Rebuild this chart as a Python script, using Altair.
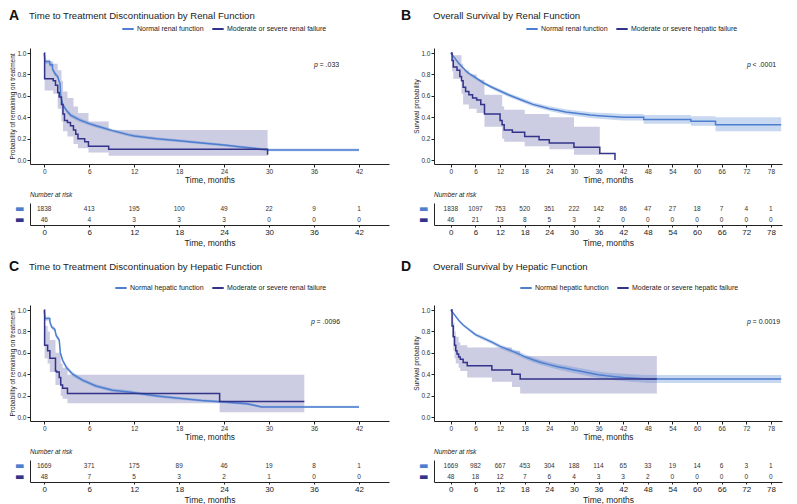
import altair as alt
import pandas as pd

FONT = "Liberation Sans"
C_NORM = "#4d7ecf"
C_DARK = "#33338a"

# ---------------- text ----------------
letters = ["A", "B", "C", "D"]
titles = ["Time to Treatment Discontinuation by Renal Function",
          "Overall Survival by Renal Function",
          "Time to Treatment Discontinuation by Hepatic Function",
          "Overall Survival by Hepatic Function"]
y_titles = ["Probability of remaining on treatment", "Survival probability",
            "Probability of remaining on treatment", "Survival probability"]
legend_normal = ["Normal renal function", "Normal renal function",
                 "Normal hepatic function", "Normal hepatic function"]
legend_impaired = ["Moderate or severe renal failure", "Moderate or severe hepatic failure",
                   "Moderate or severe renal failure", "Moderate or severe hepatic failure"]
p_labels = ["= .033", "< .0001", "= .0096", "= 0.0019"]
p_time = [36.0, 72.2, 35.6, 72.2]
p_surv = [0.89, 0.89, 0.89, 0.89]

ticks_short = [0, 6, 12, 18, 24, 30, 36, 42]
ticks_long = [0, 6, 12, 18, 24, 30, 36, 42, 48, 54, 60, 66, 72, 78]
y_ticks = [0.0, 0.2, 0.4, 0.6, 0.8, 1.0]

# ---------------- numbers at risk ----------------
risk_A_norm = [1838, 413, 195, 100, 49, 22, 9, 1]
risk_A_imp = [46, 4, 3, 3, 3, 0, 0, 0]
risk_B_norm = [1838, 1097, 753, 520, 351, 222, 142, 86, 47, 27, 18, 7, 4, 1]
risk_B_imp = [46, 21, 13, 8, 5, 3, 2, 0, 0, 0, 0, 0, 0, 0]
risk_C_norm = [1669, 371, 175, 89, 46, 19, 8, 1]
risk_C_imp = [48, 7, 5, 3, 2, 1, 0, 0]
risk_D_norm = [1669, 982, 667, 453, 304, 188, 114, 65, 33, 19, 14, 6, 3, 1]
risk_D_imp = [48, 18, 12, 7, 6, 4, 3, 3, 2, 0, 0, 0, 0, 0]

# ---------------- panel A curves ----------------
A_norm_t = [0, 0.1, 0.75, 0.75, 1.1, 1.1, 1.5, 1.8, 2.0, 2.1, 2.2, 2.45, 3.0, 3.5, 4.7, 6.0, 6.9, 9.1, 11.3, 12,
            15, 18, 21, 24, 26, 28, 29, 30, 42]
A_norm_s = [1.0, 0.92, 0.92, 0.89, 0.89, 0.85, 0.80, 0.78, 0.73, 0.72, 0.60, 0.52, 0.46, 0.42, 0.375, 0.34, 0.32,
            0.275, 0.235, 0.225, 0.20, 0.18, 0.16, 0.14, 0.125, 0.11, 0.10, 0.095, 0.095]
A_norm_lo = [1.0, 0.90, 0.90, 0.87, 0.87, 0.83, 0.78, 0.76, 0.71, 0.70, 0.58, 0.50, 0.44, 0.40, 0.355, 0.322, 0.303,
             0.26, 0.22, 0.21, 0.186, 0.166, 0.147, 0.127, 0.113, 0.098, 0.088, 0.083, 0.083]
A_norm_hi = [1.0, 0.94, 0.94, 0.91, 0.91, 0.87, 0.82, 0.80, 0.75, 0.74, 0.62, 0.54, 0.48, 0.44, 0.395, 0.358, 0.337,
             0.29, 0.25, 0.24, 0.214, 0.194, 0.173, 0.153, 0.137, 0.122, 0.112, 0.107, 0.107]
A_imp_t = [0, 0.05, 1.2, 1.5, 1.8, 2.0, 2.3, 2.5, 2.7, 3.1, 3.5, 3.9, 4.2, 4.5, 5.4, 5.9, 8.6, 29.8]
A_imp_s = [1.0, 0.76, 0.74, 0.70, 0.63, 0.59, 0.52, 0.43, 0.37, 0.35, 0.32, 0.28, 0.24, 0.20, 0.17, 0.13, 0.10, 0.05]
A_band_t = [0, 0.05, 1.2, 1.8, 2.3, 2.5, 3.1, 3.9, 4.5, 5.9, 8.6, 29.8]
A_band_lo = [1.0, 0.65, 0.62, 0.48, 0.36, 0.27, 0.22, 0.15, 0.11, 0.07, 0.04, 0.04]
A_band_hi = [1.0, 0.92, 0.90, 0.84, 0.74, 0.64, 0.58, 0.50, 0.44, 0.36, 0.28, 0.28]

# ---------------- panel B curves ----------------
B_norm_t = [0, 1, 2, 3, 4, 6, 8, 10, 12, 14, 16, 18, 20, 22, 24, 26, 28, 30, 32, 34, 36, 38, 40, 42, 47, 47,
            58.5, 58.5, 64.5, 64.5, 80.5]
B_norm_s = [1.0, 0.95, 0.9, 0.86, 0.82, 0.77, 0.72, 0.68, 0.645, 0.61, 0.58, 0.55, 0.52, 0.50, 0.48, 0.465, 0.45,
            0.44, 0.43, 0.42, 0.415, 0.41, 0.405, 0.40, 0.40, 0.38, 0.38, 0.363, 0.363, 0.33, 0.33]
B_norm_lo = [1.0, 0.94, 0.89, 0.845, 0.805, 0.755, 0.705, 0.663, 0.627, 0.592, 0.561, 0.53, 0.5, 0.479, 0.458,
             0.442, 0.426, 0.415, 0.404, 0.393, 0.387, 0.381, 0.375, 0.369, 0.369, 0.34, 0.34, 0.32, 0.32, 0.27, 0.27]
B_norm_hi = [1.0, 0.96, 0.91, 0.875, 0.835, 0.785, 0.735, 0.697, 0.663, 0.628, 0.599, 0.57, 0.54, 0.521, 0.502,
             0.488, 0.474, 0.465, 0.456, 0.447, 0.443, 0.439, 0.435, 0.431, 0.431, 0.42, 0.42, 0.41, 0.41, 0.40, 0.40]
B_imp_t = [0, 0.3, 0.6, 1.5, 2.2, 2.6, 3.0, 3.6, 4.4, 5.3, 6.3, 7.3, 8.2, 12.0, 12.5, 13.0, 15.0, 18.0, 21.5, 24.0,
           30.0, 36.3, 40.0]
B_imp_s = [1.0, 0.93, 0.87, 0.84, 0.78, 0.74, 0.68, 0.64, 0.61, 0.58, 0.56, 0.52, 0.43, 0.37, 0.33, 0.28, 0.26,
           0.22, 0.19, 0.16, 0.12, 0.06, 0.0]
B_band_t = [0, 0.3, 0.6, 2.6, 3.0, 4.4, 6.3, 8.2, 12.5, 13.0, 18.0, 24.0, 30.0, 36.3]
B_band_lo = [1.0, 0.83, 0.76, 0.62, 0.52, 0.48, 0.44, 0.31, 0.20, 0.17, 0.13, 0.10, 0.05, 0.05]
B_band_hi = [1.0, 1.0, 0.98, 0.90, 0.84, 0.80, 0.75, 0.61, 0.50, 0.47, 0.43, 0.40, 0.31, 0.31]

# ---------------- panel C curves ----------------
C_norm_t = [0, 0.1, 0.75, 0.75, 1.0, 1.4, 1.6, 2.0, 2.15, 2.45, 3.0, 3.8, 5.1, 6.9, 9.1, 11.3, 13.6, 15.3, 18, 21,
            24, 27, 28, 29, 42]
C_norm_s = [1.0, 0.92, 0.92, 0.89, 0.84, 0.82, 0.76, 0.72, 0.6, 0.53, 0.46, 0.40, 0.345, 0.29, 0.25, 0.235, 0.21,
            0.195, 0.175, 0.155, 0.14, 0.125, 0.11, 0.095, 0.095]
C_norm_lo = [1.0, 0.90, 0.90, 0.87, 0.82, 0.80, 0.74, 0.70, 0.58, 0.51, 0.44, 0.38, 0.327, 0.273, 0.234, 0.22,
             0.196, 0.181, 0.162, 0.143, 0.128, 0.113, 0.099, 0.084, 0.084]
C_norm_hi = [1.0, 0.94, 0.94, 0.91, 0.86, 0.84, 0.78, 0.74, 0.62, 0.55, 0.48, 0.42, 0.363, 0.307, 0.266, 0.25,
             0.224, 0.209, 0.188, 0.167, 0.152, 0.137, 0.121, 0.106, 0.106]
C_imp_t = [0, 0.05, 0.45, 0.75, 1.5, 1.65, 2.0, 2.2, 2.45, 3.1, 23.4, 34.7]
C_imp_s = [1.0, 0.67, 0.62, 0.55, 0.43, 0.42, 0.37, 0.30, 0.27, 0.22, 0.145, 0.145]
C_band_t = [0, 0.05, 0.45, 0.75, 1.5, 2.2, 2.45, 3.1, 23.4, 34.7]
C_band_lo = [1.0, 0.55, 0.50, 0.42, 0.30, 0.20, 0.17, 0.13, 0.045, 0.045]
C_band_hi = [1.0, 0.85, 0.80, 0.72, 0.60, 0.50, 0.46, 0.395, 0.395, 0.395]

# ---------------- panel D curves ----------------
D_norm_t = [0, 1, 2, 3, 4, 6, 8, 10, 12, 14, 16, 18, 20, 22, 24, 26, 28, 30, 32, 34, 36, 38, 40, 42, 44, 46, 48, 80.5]
D_norm_s = [1.0, 0.95, 0.9, 0.86, 0.83, 0.77, 0.735, 0.70, 0.66, 0.63, 0.60, 0.565, 0.535, 0.51, 0.49, 0.47, 0.455,
            0.44, 0.425, 0.41, 0.395, 0.385, 0.377, 0.37, 0.365, 0.36, 0.355, 0.355]
D_norm_lo = [1.0, 0.94, 0.89, 0.848, 0.817, 0.755, 0.718, 0.682, 0.641, 0.61, 0.579, 0.543, 0.512, 0.486, 0.465,
             0.444, 0.428, 0.412, 0.396, 0.38, 0.364, 0.353, 0.344, 0.336, 0.33, 0.324, 0.318, 0.318]
D_norm_hi = [1.0, 0.96, 0.91, 0.872, 0.843, 0.785, 0.752, 0.718, 0.679, 0.65, 0.621, 0.587, 0.558, 0.534, 0.515,
             0.496, 0.482, 0.468, 0.454, 0.44, 0.426, 0.417, 0.41, 0.404, 0.40, 0.396, 0.392, 0.392]
D_imp_t = [0, 0.3, 0.6, 0.9, 1.2, 1.5, 1.9, 2.3, 3.0, 4.0, 10.0, 14.9, 16.9, 50.2]
D_imp_s = [1.0, 0.85, 0.75, 0.67, 0.62, 0.59, 0.56, 0.54, 0.51, 0.48, 0.44, 0.40, 0.355, 0.355]
D_band_t = [0, 0.3, 0.6, 0.9, 1.2, 1.9, 2.3, 4.0, 10.0, 14.9, 16.9, 50.2]
D_band_lo = [1.0, 0.75, 0.62, 0.55, 0.50, 0.46, 0.43, 0.37, 0.33, 0.28, 0.22, 0.22]
D_band_hi = [1.0, 0.95, 0.88, 0.80, 0.75, 0.70, 0.67, 0.65, 0.65, 0.62, 0.57, 0.57]

# ---------------- layout (style only) ----------------
panels = [
    dict(nt=A_norm_t, ns=A_norm_s, nlo=A_norm_lo, nhi=A_norm_hi, it=A_imp_t, is_=A_imp_s,
         bt=A_band_t, blo=A_band_lo, bhi=A_band_hi, rn=risk_A_norm, ri=risk_A_imp,
         ticks=ticks_short, xdom=[-1.9, 46], W=359, letter_x=-16, head_y=-32.5, leg_x=91, leg_y=-26),
    dict(nt=B_norm_t, ns=B_norm_s, nlo=B_norm_lo, nhi=B_norm_hi, it=B_imp_t, is_=B_imp_s,
         bt=B_band_t, blo=B_band_lo, bhi=B_band_hi, rn=risk_B_norm, ri=risk_B_imp,
         ticks=ticks_long, xdom=[-4.1, 80.7], W=348, letter_x=-28, head_y=-32.5, leg_x=91, leg_y=-26),
    dict(nt=C_norm_t, ns=C_norm_s, nlo=C_norm_lo, nhi=C_norm_hi, it=C_imp_t, is_=C_imp_s,
         bt=C_band_t, blo=C_band_lo, bhi=C_band_hi, rn=risk_C_norm, ri=risk_C_imp,
         ticks=ticks_short, xdom=[-1.9, 46], W=359, letter_x=-16, head_y=-38, leg_x=84, leg_y=-24),
    dict(nt=D_norm_t, ns=D_norm_s, nlo=D_norm_lo, nhi=D_norm_hi, it=D_imp_t, is_=D_imp_s,
         bt=D_band_t, blo=D_band_lo, bhi=D_band_hi, rn=risk_D_norm, ri=risk_D_imp,
         ticks=ticks_long, xdom=[-4.1, 80.7], W=348, letter_x=-28, head_y=-38, leg_x=85, leg_y=-24),
]
H = 116
RISK_H = 22


def make_panel(i):
    p = panels[i]
    ln, li = legend_normal[i], legend_impaired[i]
    norm_df = pd.DataFrame({"t": p["nt"], "s": p["ns"], "lo": p["nlo"], "hi": p["nhi"],
                            "grp": ln, "o": list(range(len(p["nt"])))})
    imp_df = pd.DataFrame({"t": p["it"], "s": p["is_"], "grp": li, "o": list(range(len(p["it"])))})
    band_df = pd.DataFrame({"t": p["bt"], "lo": p["blo"], "hi": p["bhi"]})
    p_df = pd.DataFrame({"t": [p_time[i]], "s": [p_surv[i]], "txt": [p_labels[i]]})
    head_df = pd.DataFrame({"letter": [letters[i]], "title": [titles[i]]})

    xs = alt.Scale(domain=p["xdom"], nice=False, zero=False)
    ys = alt.Scale(domain=[-0.037, 1.047], nice=False, zero=False)
    cs = alt.Scale(domain=[ln, li], range=[C_NORM, C_DARK])
    xax = alt.Axis(values=p["ticks"], title="Time, months", labelFontSize=6.5, titleFontSize=8.3,
                   tickSize=3, labelPadding=1, titlePadding=1)
    yax = alt.Axis(values=y_ticks, format=".1f", title=y_titles[i], labelFontSize=6.5, titleFontSize=6.5,
                   tickSize=3, labelPadding=1, titlePadding=1.5)
    X = alt.X("t:Q", scale=xs, axis=xax)
    leg = alt.Legend(orient="none", legendX=p["leg_x"], legendY=p["leg_y"], direction="horizontal",
                     title=None, symbolType="stroke", symbolStrokeWidth=2, symbolSize=130,
                     labelFontSize=7, labelColor="#222", columnPadding=4, labelOffset=2)

    band_i = alt.Chart(band_df).mark_area(interpolate="step-after", color=C_DARK, opacity=0.25).encode(
        x=X, y=alt.Y("lo:Q", scale=ys, axis=yax), y2="hi:Q")
    band_n = alt.Chart(norm_df).mark_area(color=C_NORM, opacity=0.3).encode(
        x=X, y=alt.Y("lo:Q", scale=ys, axis=yax), y2="hi:Q")
    line_n = alt.Chart(norm_df).mark_line(strokeWidth=1.5).encode(
        x=X, y=alt.Y("s:Q", scale=ys, axis=yax), order="o:Q",
        color=alt.Color("grp:N", scale=cs, legend=leg))
    line_i = alt.Chart(imp_df).mark_line(interpolate="step-after", strokeWidth=1.5).encode(
        x=X, y=alt.Y("s:Q", scale=ys, axis=yax), order="o:Q",
        color=alt.Color("grp:N", scale=cs, legend=leg))
    p_sym = alt.Chart(p_df).mark_text(text="p", fontStyle="italic", fontSize=7, align="left",
                                       color="#222").encode(x=X, y=alt.Y("s:Q", scale=ys, axis=yax))
    p_rest = alt.Chart(p_df).mark_text(fontSize=7, align="left", dx=5.5, color="#222").encode(
        x=X, y=alt.Y("s:Q", scale=ys, axis=yax), text="txt:N")
    letter = alt.Chart(head_df).mark_text(fontSize=14, fontWeight="bold", align="center",
                                          baseline="middle", color="#111").encode(
        x=alt.value(p["letter_x"]), y=alt.value(p["head_y"]), text="letter:N")
    title = alt.Chart(head_df).mark_text(fontSize=9.6, align="left", baseline="middle", color="#222").encode(
        x=alt.value(-1), y=alt.value(p["head_y"]), text="title:N")

    km = alt.layer(band_i, band_n, line_n, line_i, p_sym, p_rest, letter, title).properties(
        width=p["W"], height=H)

    n = len(p["ticks"])
    risk_df = pd.DataFrame({"t": p["ticks"] + p["ticks"], "grp": ["norm"] * n + ["imp"] * n,
                            "n": p["rn"] + p["ri"]})
    risk = alt.Chart(risk_df, title=alt.TitleParams("Number at risk", anchor="start", frame="group",
                                                     fontSize=6.5, fontStyle="italic", fontWeight="normal",
                                                     offset=5, color="#222")).mark_text(
        fontSize=6.5, color="#333").encode(
        x=alt.X("t:Q", scale=xs, axis=alt.Axis(values=p["ticks"], title="Time, months", labelFontSize=8,
                                               labelColor="#222", titleFontSize=8.5, tickSize=2,
                                               labelPadding=1, titlePadding=2)),
        y=alt.Y("grp:N", scale=alt.Scale(type="point", domain=["norm", "imp"], padding=0.5),
                axis=alt.Axis(title=None, labelExpr="'\u25ac'", ticks=False, labelFont="DejaVu Sans",
                              labelFontSize=10, labelPadding=6,
                              labelColor={"condition": {"test": "datum.value === 'norm'", "value": C_NORM},
                                          "value": C_DARK})),
        text=alt.Text("n:Q", format="d")).properties(width=p["W"], height=RISK_H)

    return alt.vconcat(km, risk, spacing=7)


row1 = alt.hconcat(make_panel(0), make_panel(1), spacing=11).resolve_scale(
    color="independent").resolve_legend(color="independent")
row2 = alt.hconcat(make_panel(2), make_panel(3), spacing=11).resolve_scale(
    color="independent").resolve_legend(color="independent")

chart = alt.vconcat(row1, row2, spacing=13).resolve_scale(
    color="independent").resolve_legend(color="independent").properties(
    padding=0).configure(font=FONT).configure_view(strokeWidth=0).configure_axis(
    grid=False, labelFont=FONT, titleFont=FONT, titleFontWeight="normal", domainColor="#222",
    tickColor="#222", labelColor="#333", titleColor="#222")

chart.save("out.html", embed_options={"renderer": "svg", "actions": False})
